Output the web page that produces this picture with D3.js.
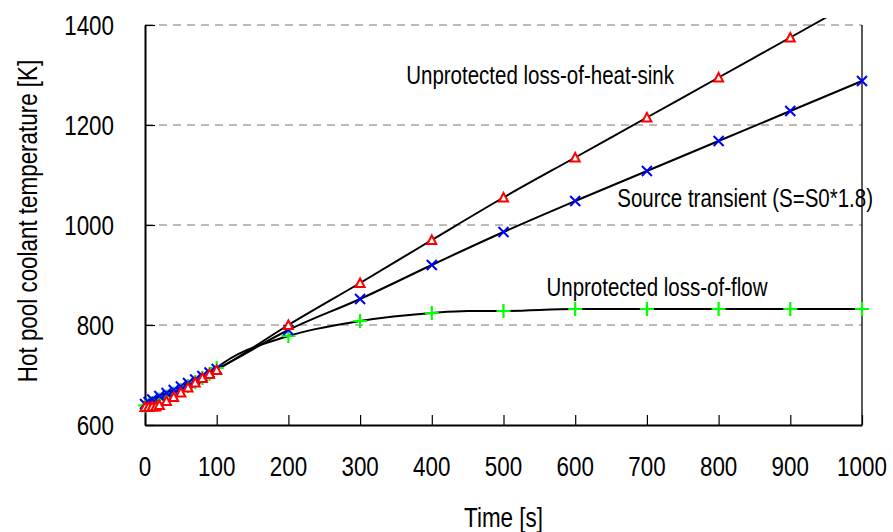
<!DOCTYPE html>
<html>
<head>
<meta charset="utf-8">
<script src="https://cdn.jsdelivr.net/npm/d3@7"></script>
<style>
  body { margin: 0; background: #fff; }
  text { font-family: 'Liberation Sans', Arial, sans-serif; fill: #000; }
</style>
</head>
<body>
<svg id="chart" width="893" height="532"></svg>
<script>
// time points [s] and hot pool temperature [K]
var heatsink_t = [0, 5, 10, 15, 20, 30, 40, 50, 60, 70, 80, 90, 100, 200, 300, 400, 500, 600, 700, 800, 900, 1000];
var heatsink_T = [636, 636, 637, 637, 640, 648, 656, 665, 675, 685, 694, 702, 710, 800, 884, 970, 1055, 1135, 1215, 1295, 1375, 1455];

var source_t = [0, 5, 10, 20, 30, 40, 50, 60, 70, 80, 90, 100, 200, 300, 400, 500, 600, 700, 800, 900, 1000];
var source_T = [642, 646, 651, 658, 664, 670, 677, 684, 691, 698, 705, 712, 790, 852, 920, 986, 1048, 1108, 1168, 1228, 1288];

var flow_t = [0, 5, 10, 20, 30, 40, 50, 60, 70, 80, 90, 100, 200, 300, 400, 450, 500, 600, 700, 800, 900, 1000];
var flow_T = [639, 641, 644, 651, 657, 663, 670, 678, 686, 694, 702, 714, 778, 808, 824, 828, 828, 832, 832, 832, 832, 832];

var x_ticks = [0, 100, 200, 300, 400, 500, 600, 700, 800, 900, 1000];
var y_ticks = [600, 800, 1000, 1200, 1400];

var labels = [
  {text: "Unprotected loss-of-heat-sink", t: 551, T: 1300},
  {text: "Source transient (S=S0*1.8)",   t: 837, T: 1054},
  {text: "Unprotected loss-of-flow",      t: 714, T: 876}
];

function zip(ts, vs){ return ts.map(function(t, i){ return [t, vs[i]]; }); }

// narrow text: Arial Narrow look-alike by squeezing Liberation Sans
function ntext(parent, px, py, str, size, sx, anchor, rot){
  var tg = parent.append("g")
    .attr("transform", "translate(" + px + "," + py + ")" + (rot ? " rotate(" + rot + ")" : ""));
  tg.append("text")
    .attr("transform", "scale(" + sx + ",1)")
    .attr("text-anchor", anchor || "middle")
    .attr("dominant-baseline", "central")
    .attr("font-size", size)
    .text(str);
  return tg;
}

var svg = d3.select("#chart");
var margin = {left: 145, right: 31, top: 25, bottom: 107};
var width  = +svg.attr("width")  - margin.left - margin.right,
    height = +svg.attr("height") - margin.top  - margin.bottom;

var x = d3.scaleLinear().domain([0, 1000]).range([0, width]);
var y = d3.scaleLinear().domain([600, 1400]).range([height, 0]);

var g = svg.append("g").attr("transform", "translate(" + margin.left + "," + margin.top + ")");

// dashed gridlines
g.selectAll(".grid").data(y_ticks.filter(function(d){ return d > 600; }))
  .enter().append("line")
    .attr("x1", 0).attr("x2", width)
    .attr("y1", function(d){ return y(d); }).attr("y2", function(d){ return y(d); })
    .attr("stroke", "#777").attr("stroke-width", 1).attr("stroke-dasharray", "8,6");

// right border
g.append("line").attr("x1", width).attr("x2", width).attr("y1", 0).attr("y2", height)
  .attr("stroke", "#000").attr("stroke-width", 1.3);

// axes, ticks pointing inward; labels drawn separately
var xAxis = g.append("g").attr("transform", "translate(0," + height + ")")
  .call(d3.axisBottom(x).tickValues(x_ticks).tickSizeInner(-10).tickSizeOuter(0).tickFormat(""));
var yAxis = g.append("g")
  .call(d3.axisLeft(y).tickValues(y_ticks).tickSizeInner(-10).tickSizeOuter(0).tickFormat(""));
[xAxis, yAxis].forEach(function(a){
  a.select(".domain").attr("stroke", "#000").attr("stroke-width", 2);
  a.selectAll(".tick line").attr("stroke", "#000").attr("stroke-width", 1.2);
});

x_ticks.forEach(function(d){ ntext(g, x(d), height + 41, String(d), 28, 0.8, "middle"); });
y_ticks.forEach(function(d){ ntext(g, -31, y(d), String(d), 28, 0.8, "end"); });

svg.append("clipPath").attr("id", "plotclip")
  .append("rect").attr("x", 0).attr("y", -7).attr("width", width + 2).attr("height", height + 7);

var line = d3.line().curve(d3.curveMonotoneX)
  .x(function(d){ return x(d[0]); }).y(function(d){ return y(d[1]); });

var series = [zip(heatsink_t, heatsink_T), zip(source_t, source_T), zip(flow_t, flow_T)];

var lines = g.append("g").attr("clip-path", "url(#plotclip)");
series.forEach(function(s){
  lines.append("path").datum(s)
    .attr("fill", "none").attr("stroke", "#000").attr("stroke-width", 2)
    .attr("d", line);
});

function inside(d){ return d[0] <= 1000 && d[1] <= 1400; }
function place(d){ return "translate(" + x(d[0]) + "," + y(d[1]) + ")"; }

// markers: green plus, blue cross, red triangle
g.append("g").selectAll("path").data(series[2].filter(inside).filter(function(d){ return d[0] !== 450; }))
  .enter().append("path")
  .attr("transform", place)
  .attr("d", "M-7,0H7M0,-7V7")
  .attr("stroke", "#00ff00").attr("stroke-width", 2.2).attr("fill", "none");

g.append("g").selectAll("path").data(series[1].filter(inside)).enter().append("path")
  .attr("transform", place)
  .attr("d", "M-5,-5L5,5M-5,5L5,-5")
  .attr("stroke", "#0000ff").attr("stroke-width", 2).attr("fill", "none");

g.append("g").selectAll("path").data(series[0].filter(inside)).enter().append("path")
  .attr("transform", place)
  .attr("d", "M0,-4.5L4.5,4L-4.5,4Z")
  .attr("stroke", "#ff0000").attr("stroke-width", 2).attr("fill", "#fff");

// curve labels
labels.forEach(function(d){ ntext(g, x(d.t), y(d.T), d.text, 25, 0.82, "middle"); });

// axis titles
ntext(svg, margin.left + width / 2, 517, "Time [s]", 28, 0.8, "middle");
ntext(svg, 27, 221, "Hot pool coolant temperature [K]", 28, 0.8, "middle", -90);
</script>
</body>
</html>
